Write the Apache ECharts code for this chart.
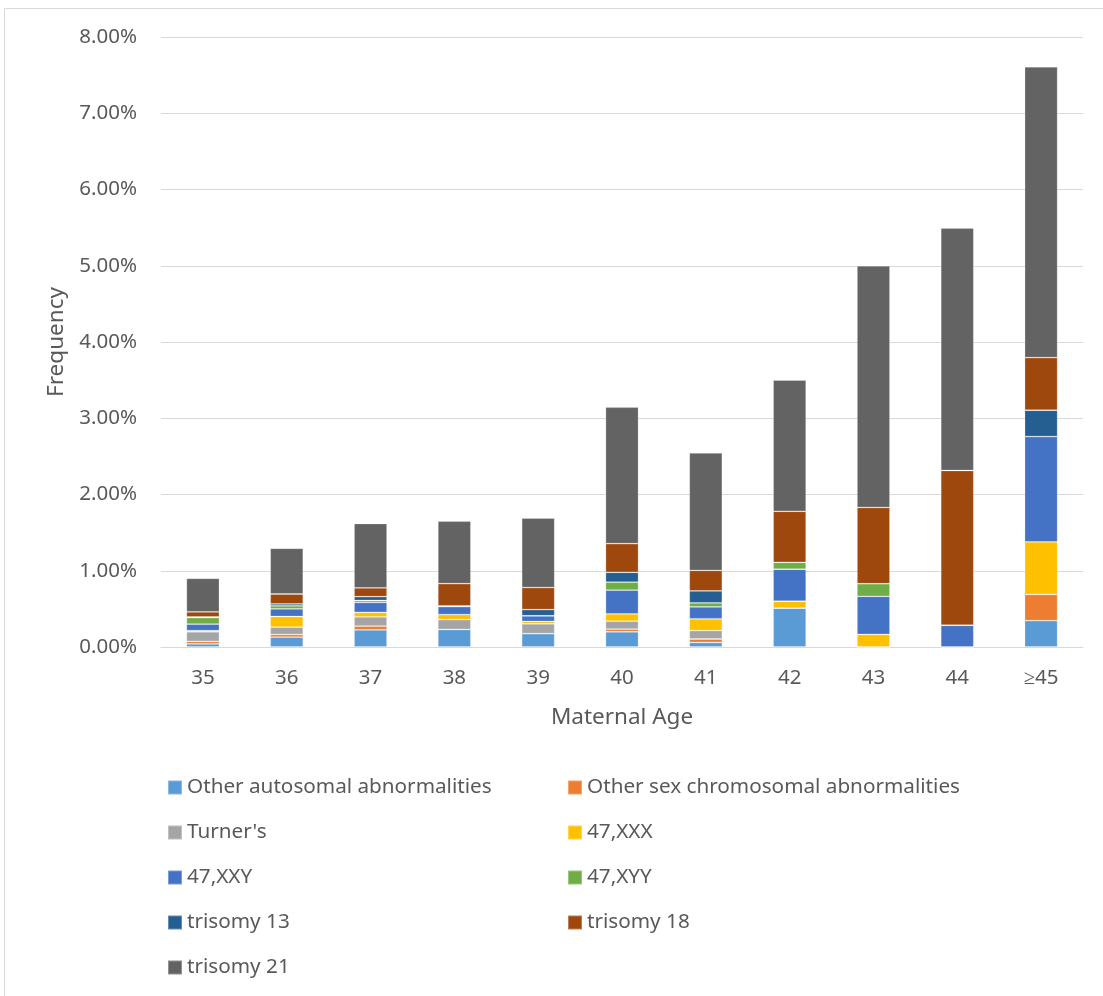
<!DOCTYPE html>
<html>
<head>
<meta charset="utf-8">
<title>Chromosomal abnormalities by maternal age</title>
<script src="https://cdn.jsdelivr.net/npm/echarts@6/dist/echarts.min.js"></script>
<style>
  html, body { margin: 0; padding: 0; background: #ffffff; }
  #chart { width: 1103px; height: 996px; }
</style>
</head>
<body>
<div id="chart"></div>
<script>
// Maternal age groups
const ages = ['35', '36', '37', '38', '39', '40', '41', '42', '43', '44', '≥45'];

// Frequency (%) of each abnormality, stacked bottom to top
const otherAutosomal = [0.04, 0.13, 0.225, 0.23, 0.175, 0.20, 0.06, 0.51, 0, 0, 0.345];
const otherSexChrom  = [0.035, 0.035, 0.05, 0, 0, 0.035, 0.045, 0, 0, 0, 0.345];
const turners        = [0.125, 0.095, 0.12, 0.13, 0.13, 0.105, 0.11, 0, 0, 0, 0];
const xxx47          = [0.015, 0.14, 0.06, 0.065, 0.03, 0.095, 0.155, 0.09, 0.165, 0, 0.69];
const xxy47          = [0.085, 0.10, 0.13, 0.105, 0.075, 0.31, 0.155, 0.42, 0.50, 0.285, 1.38];
const xyy47          = [0.085, 0.04, 0.025, 0, 0, 0.105, 0.055, 0.09, 0.165, 0, 0];
const trisomy13      = [0.01, 0.025, 0.05, 0.01, 0.08, 0.13, 0.155, 0, 0, 0, 0.345];
const trisomy18      = [0.065, 0.13, 0.115, 0.29, 0.29, 0.375, 0.27, 0.67, 1.00, 2.03, 0.69];
const trisomy21      = [0.44, 0.60, 0.845, 0.82, 0.91, 1.79, 1.54, 1.72, 3.17, 3.18, 3.815];

// Y axis ticks (percent)
const yTicks = [0, 1, 2, 3, 4, 5, 6, 7, 8];

const seriesDefs = [
  { name: 'Other autosomal abnormalities', data: otherAutosomal, color: '#5B9BD5' },
  { name: 'Other sex chromosomal abnormalities', data: otherSexChrom, color: '#ED7D31' },
  { name: "Turner's", data: turners, color: '#A5A5A5' },
  { name: '47,XXX', data: xxx47, color: '#FFC000' },
  { name: '47,XXY', data: xxy47, color: '#4472C4' },
  { name: '47,XYY', data: xyy47, color: '#70AD47' },
  { name: 'trisomy 13', data: trisomy13, color: '#255E91' },
  { name: 'trisomy 18', data: trisomy18, color: '#9E480E' },
  { name: 'trisomy 21', data: trisomy21, color: '#636363' }
];

const FONT = 'Noto Sans';
const TEXT = '#595959';
const GRID = '#d9d9d9';

const chart = echarts.init(document.getElementById('chart'), null, { renderer: 'canvas' });

const legendText = { fontFamily: FONT, fontSize: 20.7, color: TEXT, lineHeight: 21 };
const leftNames = seriesDefs.filter((_, i) => i % 2 === 0).map(s => s.name);
const rightNames = seriesDefs.filter((_, i) => i % 2 === 1).map(s => s.name);

chart.setOption({
  backgroundColor: '#ffffff',
  animation: false,
  textStyle: { fontFamily: FONT },
  graphic: [{
    type: 'polyline',
    silent: true,
    shape: { points: [[4.5, 1000], [4.5, 8.5], [1110, 8.5]] },
    style: { stroke: GRID, lineWidth: 1, fill: null }
  }],
  grid: { left: 161, right: 20, top: 37, bottom: 349, containLabel: false },
  legend: [
    {
      data: leftNames, orient: 'vertical', left: 167, top: 777, padding: 0,
      itemWidth: 14, itemHeight: 14, itemGap: 24, icon: 'rect',
      textStyle: legendText, selectedMode: false
    },
    {
      data: rightNames, orient: 'vertical', left: 567, top: 777, padding: 0,
      itemWidth: 14, itemHeight: 14, itemGap: 24, icon: 'rect',
      textStyle: legendText, selectedMode: false
    }
  ],
  xAxis: {
    type: 'category',
    data: ages,
    name: 'Maternal Age',
    nameLocation: 'middle',
    nameGap: 59,
    nameTextStyle: { fontFamily: FONT, fontSize: 22.5, color: TEXT },
    axisLine: { lineStyle: { color: GRID, width: 1 } },
    axisTick: { show: false },
    axisLabel: { fontFamily: FONT, fontSize: 20.5, color: TEXT, margin: 21 }
  },
  yAxis: {
    type: 'value',
    min: yTicks[0],
    max: yTicks[yTicks.length - 1],
    interval: 1,
    name: 'Frequency',
    nameLocation: 'middle',
    nameRotate: 90,
    nameGap: 93,
    nameTextStyle: { fontFamily: FONT, fontSize: 22.5, color: TEXT },
    axisLine: { show: false },
    axisTick: { show: false },
    splitLine: { lineStyle: { color: GRID, width: 1 } },
    axisLabel: {
      fontFamily: FONT, fontSize: 20.5, color: TEXT, margin: 24,
      formatter: v => v.toFixed(2) + '%'
    }
  },
  series: seriesDefs.map(s => ({
    name: s.name,
    type: 'bar',
    stack: 'total',
    barWidth: 33,
    data: s.data,
    itemStyle: { color: s.color, borderColor: 'rgba(255,255,255,0.3)', borderWidth: 0.8 },
    emphasis: { disabled: true }
  }))
});
</script>
</body>
</html>
